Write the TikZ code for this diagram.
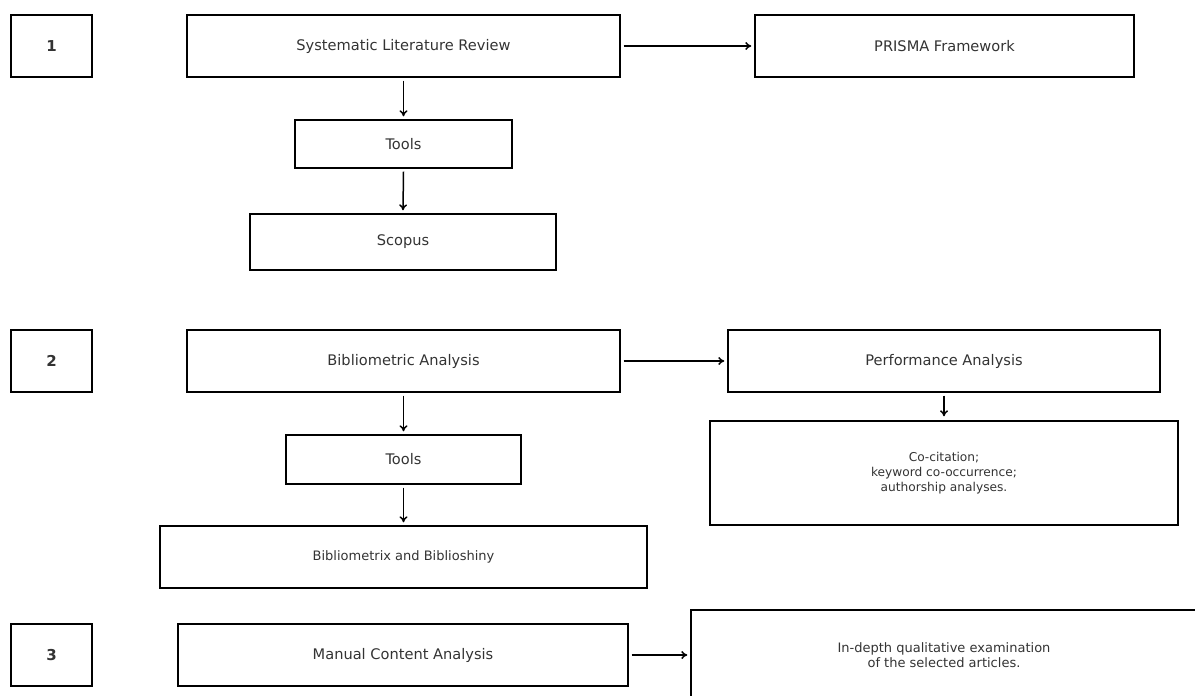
\documentclass[tikz,border=0pt]{standalone}
\usepackage{fontspec}
\setmainfont{DejaVu Sans}
\usetikzlibrary{arrows.meta}
\definecolor{txt}{HTML}{333333}
\begin{document}
\begin{tikzpicture}[x=1pt,y=-1pt,
  box/.style={draw=black,line width=1.4pt,inner sep=0pt,text=txt,align=center,font=\fontsize{14.6}{17}\selectfont},
  numbox/.style={box,minimum width=81,minimum height=62,font=\fontsize{15}{17}\selectfont\bfseries},
  arr/.style={-{To[length=6pt,width=8pt]},line width=1.5pt,black}]
\useasboundingbox (0,0) rectangle (1195,696);
\clip (0,0) rectangle (1195,696);
% row 1
\node[numbox] (n1) at (51.5,46) {1};
\node[box,minimum width=433,minimum height=62] (slr) at (403.5,46) {Systematic Literature Review};
\node[box,minimum width=379,minimum height=62] (prisma) at (944.5,46) {PRISMA Framework};
\node[box,minimum width=217,minimum height=48] (tools1) at (403.5,144) {Tools};
\node[box,minimum width=306,minimum height=56] (scopus) at (403,242) {Scopus};
% row 2
\node[numbox] (n2) at (51.5,361) {2};
\node[box,minimum width=433,minimum height=62] (ba) at (403.5,361) {Bibliometric Analysis};
\node[box,minimum width=432,minimum height=62] (pa) at (944,361) {Performance Analysis};
\node[box,minimum width=468,minimum height=104,font=\fontsize{12.2}{15}\selectfont] (co) at (944,473) {Co-citation;\\keyword co-occurrence;\\authorship analyses.};
\node[box,minimum width=235,minimum height=49] (tools2) at (403.5,459.5) {Tools};
\node[box,minimum width=487,minimum height=62,font=\fontsize{13}{15}\selectfont] (biblio) at (403.5,557) {Bibliometrix and Biblioshiny};
% row 3
\node[numbox] (n3) at (51.5,655) {3};
\node[box,minimum width=450,minimum height=62] (mca) at (403,655) {Manual Content Analysis};
\node[box,minimum width=506,minimum height=90,font=\fontsize{13}{15}\selectfont] (ind) at (944,655) {In-depth qualitative examination\\of the selected articles.};
% arrows
\draw[arr] ([xshift=3pt]slr.east) -- ([xshift=-3pt]prisma.west);
\draw[arr] ([yshift=-3pt]slr.south) -- ([yshift=3pt]tools1.north);
\draw[arr] ([yshift=-3pt]tools1.south) -- ([yshift=3pt]scopus.north);
\draw[arr] ([xshift=3pt]ba.east) -- ([xshift=-3pt]pa.west);
\draw[arr] ([yshift=-3pt]ba.south) -- ([yshift=3pt]tools2.north);
\draw[arr] ([yshift=-3pt]tools2.south) -- ([yshift=3pt]biblio.north);
\draw[arr] ([yshift=-3pt]pa.south) -- ([yshift=4pt]co.north);
\draw[arr] ([xshift=3pt]mca.east) -- ([xshift=-3pt]ind.west);
\end{tikzpicture}
\end{document}
